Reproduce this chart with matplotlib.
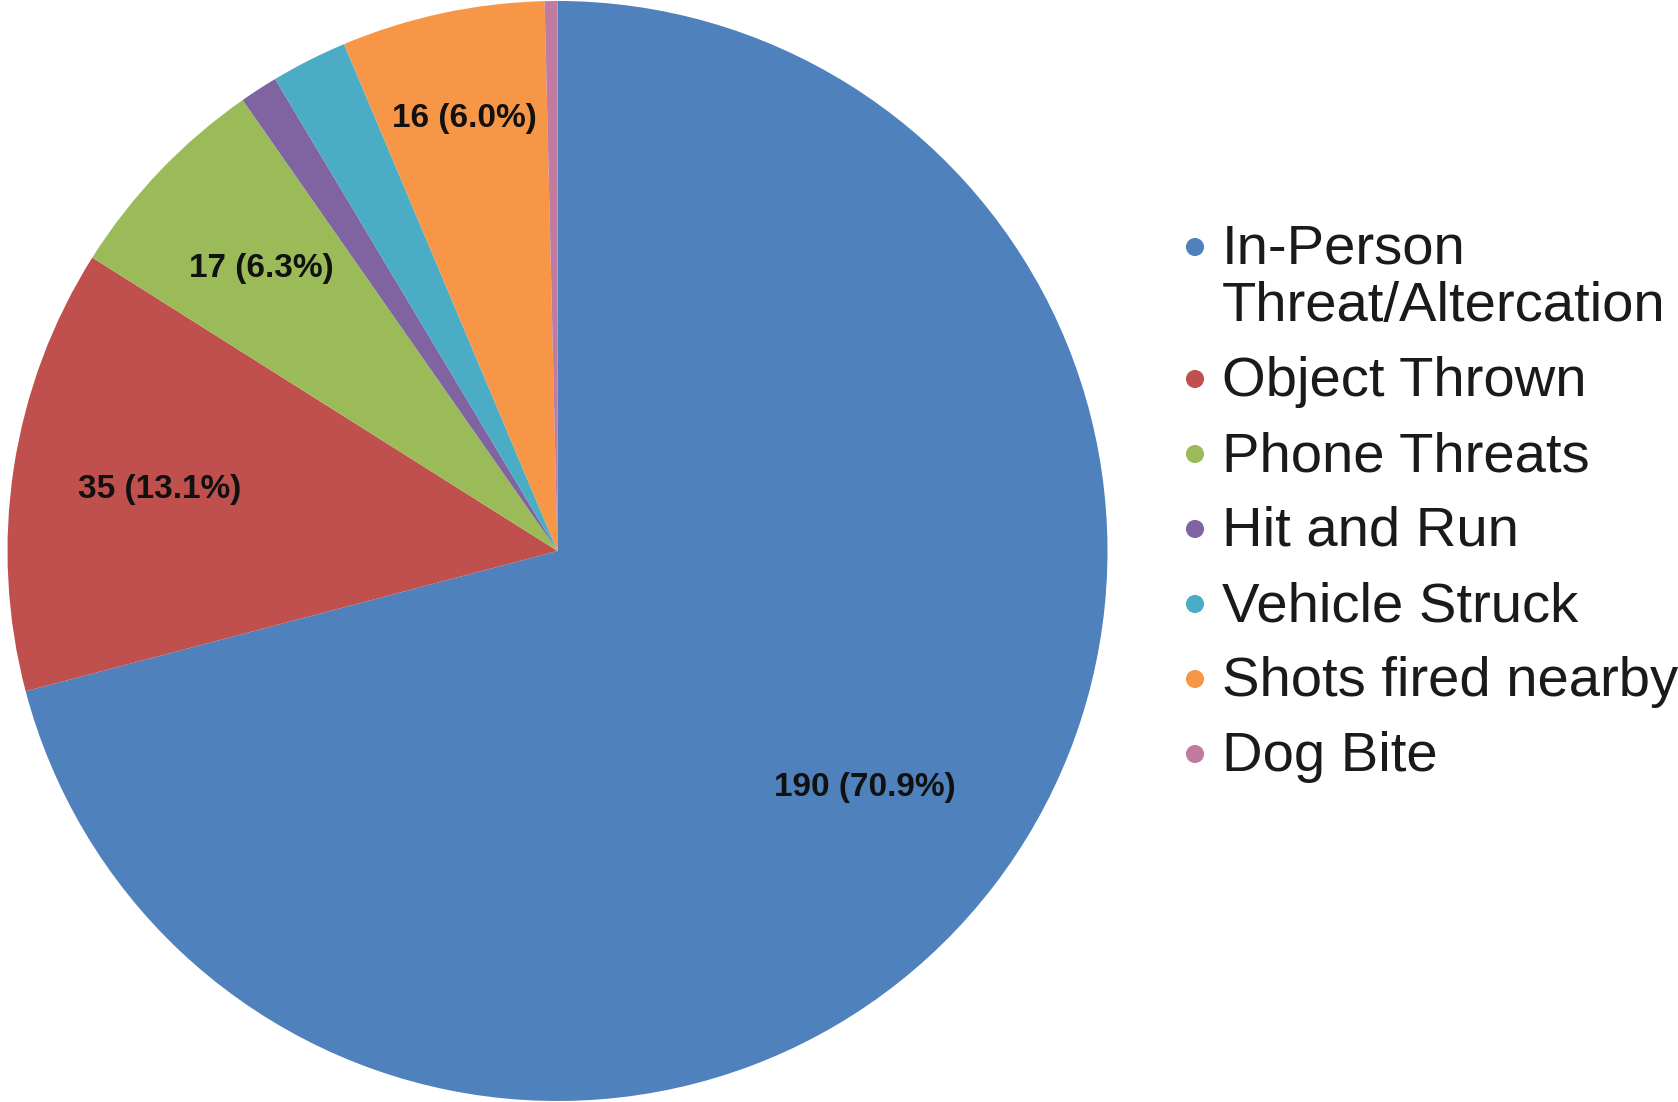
import numpy as np
import matplotlib.pyplot as plt

# Incident counts by type
categories = ['In-Person\nThreat/Altercation', 'Object Thrown', 'Phone Threats',
              'Hit and Run', 'Vehicle Struck', 'Shots fired nearby', 'Dog Bite']
counts = [190, 35, 17, 3, 6, 16, 1]
colors = ['#4F81BD', '#C0504D', '#9BBB59', '#8064A2', '#4BACC6', '#F79646', '#C27BA0']
show_label = [True, True, True, False, False, True, False]
label_dist = [0.705, 0.731, 0.745, 0.7, 0.7, 0.805, 0.7]

plt.rcParams['font.family'] = ['Liberation Sans', 'DejaVu Sans']

W, H = 1678, 1102
fig = plt.figure(figsize=(W / 100, H / 100), dpi=100)

# pie axes (pixel geometry: center ~ (557, 551), radius ~ 550)
cx, cy, r = 557.5, 551, 550
ax = fig.add_axes([(cx - r) / W, (H - cy - r) / H, 2 * r / W, 2 * r / H])
wedges, _ = ax.pie(counts, colors=colors, startangle=90, counterclock=False,
                   radius=1.0, wedgeprops=dict(linewidth=0))
ax.set_xlim(-1, 1)
ax.set_ylim(-1, 1)
ax.set_aspect('equal')
ax.axis('off')

total = sum(counts)
for w, n, show, d in zip(wedges, counts, show_label, label_dist):
    if not show:
        continue
    ang = np.deg2rad((w.theta1 + w.theta2) / 2)
    ax.text(d * np.cos(ang), d * np.sin(ang), f'{n} ({n / total * 100:.1f}%)',
            ha='center', va='center', fontsize=24, fontweight='bold', color='#111111')

# legend drawn in pixel coordinates
lax = fig.add_axes([0, 0, 1, 1])
lax.set_xlim(0, W)
lax.set_ylim(H, 0)
lax.axis('off')
y = 247
for name, c in zip(categories, colors):
    lax.scatter([1195], [y], s=170, color=c, edgecolors='none')
    for i, line in enumerate(name.split('\n')):
        lax.text(1222, y + 17 + i * 57, line, fontsize=40.5, color='#1a1a1a',
                 ha='left', va='baseline')
    y += 75 + 57 * (len(name.split('\n')) - 1)

fig.savefig('out.png', dpi=100)
